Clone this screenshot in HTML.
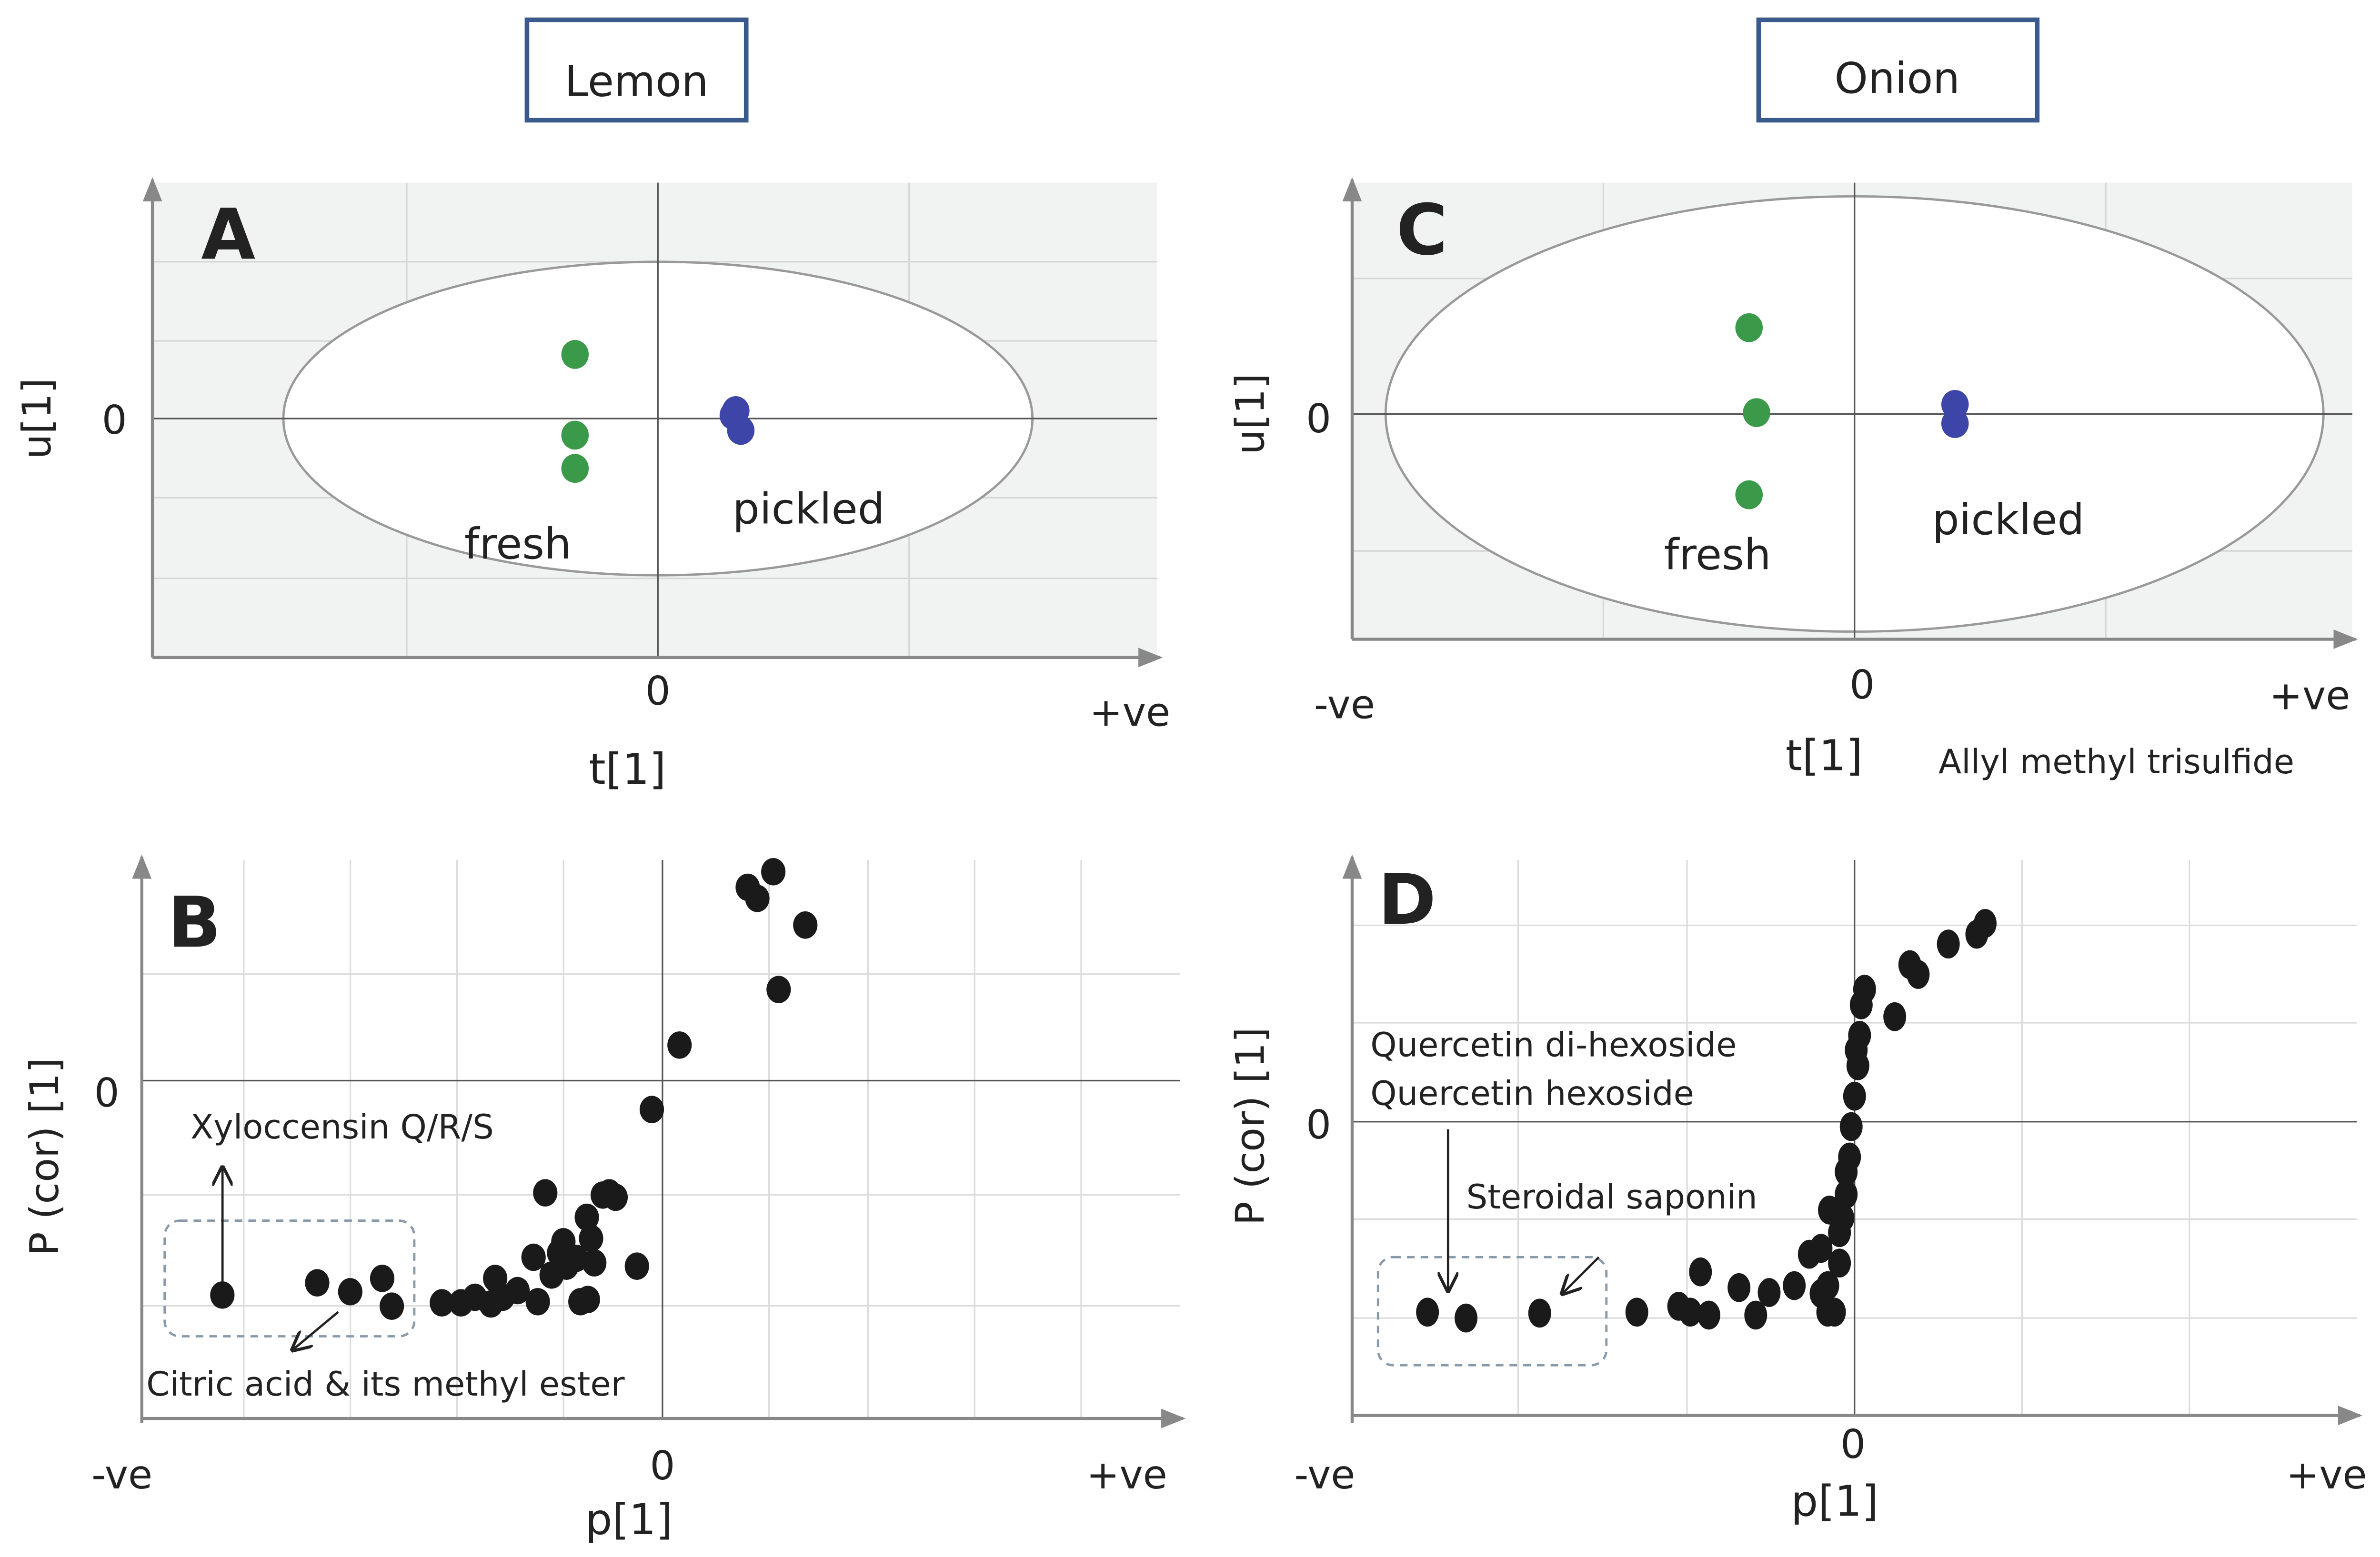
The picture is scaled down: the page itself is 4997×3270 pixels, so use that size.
<!DOCTYPE html>
<html><head><meta charset="utf-8">
<style>
html,body{margin:0;padding:0;background:#fff;}
svg{display:block;}
text{font-family:"DejaVu Sans","Liberation Sans",sans-serif;fill:#222;}
</style></head>
<body>
<svg id="fig" width="4997" height="3270" viewBox="0 0 1563 1023" xmlns="http://www.w3.org/2000/svg">
<defs>
<marker id="ah" viewBox="0 0 10 10" refX="9" refY="5" markerWidth="8" markerHeight="8" orient="auto"><path d="M0,1 L10,5 L0,9 z" fill="#888"/></marker>
<marker id="ab" viewBox="0 0 10 10" refX="9" refY="5" markerWidth="9" markerHeight="9" orient="auto"><path d="M0,0 L10,5 L0,10" fill="none" stroke="#222" stroke-width="1.5"/></marker>
</defs>

<!-- Titles -->
<g>
<rect x="346" y="13" width="144" height="66" fill="#fff" stroke="#3a5a8c" stroke-width="3"/>
<text x="418" y="63" font-size="28" text-anchor="middle">Lemon</text>
</g>
<g>
<rect x="1155" y="13" width="183" height="66" fill="#fff" stroke="#3a5a8c" stroke-width="3"/>
<text x="1246" y="61" font-size="28" text-anchor="middle">Onion</text>
</g>

<g id="panelA">
<rect x="100" y="120" width="660" height="312" fill="#f1f3f2"/>
<g stroke="#d6d6d6" stroke-width="1">
<line x1="267" y1="120" x2="267" y2="432"/><line x1="597" y1="120" x2="597" y2="432"/>
<line x1="100" y1="172" x2="760" y2="172"/><line x1="100" y1="224" x2="760" y2="224"/>
<line x1="100" y1="327" x2="760" y2="327"/><line x1="100" y1="380" x2="760" y2="380"/>
</g>
<ellipse cx="432" cy="275" rx="246" ry="103" fill="#fff" stroke="#999" stroke-width="1.5"/>
<line x1="432" y1="120" x2="432" y2="432" stroke="#555" stroke-width="1"/>
<line x1="100" y1="275" x2="760" y2="275" stroke="#555" stroke-width="1"/>
<line x1="100" y1="432" x2="762" y2="432" stroke="#888" stroke-width="2" marker-end="url(#ah)"/>
<line x1="100" y1="432" x2="100" y2="118" stroke="#888" stroke-width="2" marker-end="url(#ah)"/>
<text x="132" y="170" font-size="46" font-weight="bold" fill="#222">A</text>
<text x="75" y="285" font-size="26" text-anchor="middle">0</text>
<text transform="translate(33,275) rotate(-90)" font-size="26" text-anchor="middle">u[1]</text>
<text x="432" y="463" font-size="26" text-anchor="middle">0</text>
<text x="742" y="477" font-size="26" text-anchor="middle">+ve</text>
<text x="412" y="515" font-size="28" text-anchor="middle">t[1]</text>
<text x="340" y="367" font-size="28" text-anchor="middle">fresh</text>
<text x="531" y="344" font-size="28" text-anchor="middle">pickled</text>
</g>

<g id="panelC">
<rect x="888" y="120" width="657" height="300" fill="#f1f3f2"/>
<g stroke="#d6d6d6" stroke-width="1">
<line x1="1053" y1="120" x2="1053" y2="420"/><line x1="1383" y1="120" x2="1383" y2="420"/>
<line x1="888" y1="183" x2="1545" y2="183"/><line x1="888" y1="362" x2="1545" y2="362"/>
</g>
<ellipse cx="1218" cy="272" rx="308" ry="143" fill="#fff" stroke="#999" stroke-width="1.5"/>
<line x1="1218" y1="120" x2="1218" y2="420" stroke="#555" stroke-width="1"/>
<line x1="888" y1="272" x2="1545" y2="272" stroke="#555" stroke-width="1"/>
<line x1="888" y1="420" x2="1547" y2="420" stroke="#888" stroke-width="2" marker-end="url(#ah)"/>
<line x1="888" y1="420" x2="888" y2="118" stroke="#888" stroke-width="2" marker-end="url(#ah)"/>
<text x="917" y="167" font-size="46" font-weight="bold" fill="#222">C</text>
<text x="866" y="284" font-size="26" text-anchor="middle">0</text>
<text transform="translate(830,272) rotate(-90)" font-size="26" text-anchor="middle">u[1]</text>
<text x="883" y="472" font-size="26" text-anchor="middle">-ve</text>
<text x="1223" y="459" font-size="26" text-anchor="middle">0</text>
<text x="1517" y="466" font-size="26" text-anchor="middle">+ve</text>
<text x="1198" y="506" font-size="28" text-anchor="middle">t[1]</text>
<text x="1390" y="508" font-size="22" text-anchor="middle">Allyl methyl trisulfide</text>
<text x="1128" y="374" font-size="28" text-anchor="middle">fresh</text>
<text x="1319" y="351" font-size="28" text-anchor="middle">pickled</text>
</g>

<g id="panelB">
<g stroke="#dcdcdc" stroke-width="1">
<line x1="160" y1="565" x2="160" y2="932"/><line x1="230" y1="565" x2="230" y2="932"/><line x1="300" y1="565" x2="300" y2="932"/><line x1="370" y1="565" x2="370" y2="932"/>
<line x1="505" y1="565" x2="505" y2="932"/><line x1="570" y1="565" x2="570" y2="932"/><line x1="640" y1="565" x2="640" y2="932"/><line x1="710" y1="565" x2="710" y2="932"/>
<line x1="93" y1="640" x2="775" y2="640"/><line x1="93" y1="785" x2="775" y2="785"/><line x1="93" y1="858" x2="775" y2="858"/>
</g>
<line x1="435" y1="565" x2="435" y2="932" stroke="#555"/>
<line x1="93" y1="710" x2="775" y2="710" stroke="#555"/>
<line x1="93" y1="932" x2="777" y2="932" stroke="#888" stroke-width="2" marker-end="url(#ah)"/>
<line x1="93" y1="935" x2="93" y2="563" stroke="#888" stroke-width="2" marker-end="url(#ah)"/>
<text x="110" y="622" font-size="46" font-weight="bold" fill="#222">B</text>
<text x="70" y="727" font-size="26" text-anchor="middle">0</text>
<text transform="translate(38,760) rotate(-90)" font-size="26" text-anchor="middle">P (cor) [1]</text>
<text x="80" y="978" font-size="26" text-anchor="middle">-ve</text>
<text x="435" y="972" font-size="26" text-anchor="middle">0</text>
<text x="740" y="978" font-size="26" text-anchor="middle">+ve</text>
<text x="413" y="1008" font-size="28" text-anchor="middle">p[1]</text>
<rect x="108" y="802" width="164" height="76" rx="10" fill="none" stroke="#8899aa" stroke-width="1.5" stroke-dasharray="5,4"/>
<line x1="146" y1="842" x2="146" y2="767" stroke="#222" stroke-width="1.5" marker-end="url(#ab)"/>
<line x1="222" y1="862" x2="192" y2="887" stroke="#222" stroke-width="1.5" marker-end="url(#ab)"/>
<text x="125" y="748" font-size="22">Xyloccensin Q/R/S</text>
<text x="96" y="917" font-size="22">Citric acid &amp; its methyl ester</text>
</g>

<g id="panelD">
<g stroke="#dcdcdc" stroke-width="1">
<line x1="997" y1="565" x2="997" y2="930"/><line x1="1108" y1="565" x2="1108" y2="930"/><line x1="1328" y1="565" x2="1328" y2="930"/><line x1="1438" y1="565" x2="1438" y2="930"/>
<line x1="888" y1="608" x2="1548" y2="608"/><line x1="888" y1="672" x2="1548" y2="672"/><line x1="888" y1="801" x2="1548" y2="801"/><line x1="888" y1="866" x2="1548" y2="866"/>
</g>
<line x1="1218" y1="565" x2="1218" y2="930" stroke="#555"/>
<line x1="888" y1="737" x2="1548" y2="737" stroke="#555"/>
<line x1="888" y1="930" x2="1550" y2="930" stroke="#888" stroke-width="2" marker-end="url(#ah)"/>
<line x1="888" y1="935" x2="888" y2="563" stroke="#888" stroke-width="2" marker-end="url(#ah)"/>
<text x="905" y="607" font-size="46" font-weight="bold" fill="#222">D</text>
<text x="866" y="748" font-size="26" text-anchor="middle">0</text>
<text transform="translate(830,740) rotate(-90)" font-size="26" text-anchor="middle">P (cor) [1]</text>
<text x="870" y="978" font-size="26" text-anchor="middle">-ve</text>
<text x="1217" y="958" font-size="26" text-anchor="middle">0</text>
<text x="1528" y="978" font-size="26" text-anchor="middle">+ve</text>
<text x="1205" y="996" font-size="28" text-anchor="middle">p[1]</text>
<rect x="905" y="826" width="150" height="71" rx="10" fill="none" stroke="#8899aa" stroke-width="1.5" stroke-dasharray="5,4"/>
<line x1="951" y1="742" x2="951" y2="848" stroke="#222" stroke-width="1.5" marker-end="url(#ab)"/>
<line x1="1050" y1="826" x2="1026" y2="850" stroke="#222" stroke-width="1.5" marker-end="url(#ab)"/>
<text x="900" y="694" font-size="22">Quercetin di-hexoside</text>
<text x="900" y="726" font-size="22">Quercetin hexoside</text>
<text x="963" y="794" font-size="22">Steroidal saponin</text>
</g>
<g id="marks"></g>
</svg>
<script>
// Panel A scores (t[1], u[1])
const aFreshT = [-0.33, -0.33, -0.33];
const aFreshU = [0.81, -0.21, -0.63];
const aPickT = [0.31, 0.33, 0.30];
const aPickU = [0.10, -0.15, 0.04];
// Panel C scores
const cFreshT = [-0.42, -0.39, -0.42];
const cFreshU = [0.63, 0.01, -0.59];
const cPickT = [0.40, 0.40];
const cPickU = [0.07, -0.07];
// Panel B loadings (p[1], p(corr)[1])
const bP = [-4.13,-3.24,-2.93,-2.63,-2.54,-2.07,-1.89,-1.76,-1.61,-1.57,-1.50,-1.36,-1.21,-1.17,-1.10,-1.04,-0.97,-0.90,-0.81,-0.77,-0.70,-0.67,-0.64,-0.56,-0.50,-0.44,-0.24,-0.10,0.16,0.80,0.89,1.04,1.34,1.09,-0.93,-0.71];
const bCor = [-1.93,-1.82,-1.90,-1.78,-2.03,-2.00,-2.00,-1.95,-2.01,-1.78,-1.95,-1.89,-1.59,-1.99,-1.01,-1.75,-1.55,-1.67,-1.60,-1.99,-1.97,-1.42,-1.64,-1.03,-1.01,-1.05,-1.67,-0.26,0.32,1.74,1.64,1.88,1.40,0.82,-1.45,-1.23];
// Panel D loadings
const dP = [-2.55,-2.32,-1.88,-1.30,-1.05,-0.98,-0.92,-0.87,-0.69,-0.59,-0.51,-0.36,-0.27,-0.20,-0.16,-0.12,-0.09,-0.07,-0.05,-0.03,-0.02,0.00,0.02,0.03,0.04,0.06,0.24,0.33,0.38,0.56,0.73,0.78,-0.09,-0.05,0.01,-0.20,-0.15,-0.16];
const dCor = [-1.94,-2.00,-1.95,-1.94,-1.88,-1.94,-1.53,-1.97,-1.69,-1.97,-1.74,-1.67,-1.35,-1.75,-1.94,-1.94,-1.44,-0.98,-0.74,-0.36,-0.05,0.26,0.57,0.88,1.19,1.35,1.07,1.60,1.50,1.81,1.91,2.02,-1.13,-0.51,0.73,-1.29,-0.90,-1.67];

const NS = 'http://www.w3.org/2000/svg';
const marks = document.getElementById('marks');
const axA = {x: v => 432 + 165*v, y: v => 275 - 52*v};
const axC = {x: v => 1218 + 165*v, y: v => 272 - 90*v};
const axB = {x: v => 435 + 70*v, y: v => 710 - 73*v};
const axD = {x: v => 1218 + 110*v, y: v => 737 - 64.5*v};

function draw(xs, ys, ax, fill, rx, ry, name) {
  for (let i = 0; i < xs.length; i++) {
    const el = document.createElementNS(NS, 'ellipse');
    el.setAttribute('cx', ax.x(xs[i]));
    el.setAttribute('cy', ax.y(ys[i]));
    el.setAttribute('rx', rx);
    el.setAttribute('ry', ry);
    el.setAttribute('fill', fill);
    
    
    marks.appendChild(el);
  }
}
draw(aFreshT, aFreshU, axA, '#3a9a4a', 9, 9.5, 'fresh-point-a');
draw(aPickT, aPickU, axA, '#3d46a8', 9, 9.5, 'pickled-point-a');
draw(cFreshT, cFreshU, axC, '#3a9a4a', 9, 9.5, 'fresh-point-c');
draw(cPickT, cPickU, axC, '#3d46a8', 9, 9.5, 'pickled-point-c');
draw(bP, bCor, axB, '#1a1a1a', 8, 9, 'loading-point-b');
draw(dP, dCor, axD, '#1a1a1a', 7.5, 9.5, 'loading-point-d');
</script>
</body></html>
